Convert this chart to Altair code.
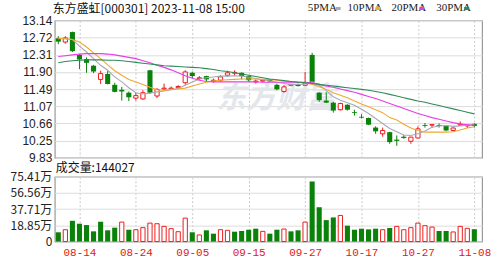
import altair as alt
import pandas as pd

dates = ["08-09","08-10","08-11","08-14","08-15","08-16","08-17","08-18","08-21","08-22",
         "08-23","08-24","08-25","08-28","08-29","08-30","08-31","09-01","09-04","09-05",
         "09-06","09-07","09-08","09-11","09-12","09-13","09-14","09-15","09-18","09-19",
         "09-20","09-21","09-22","09-25","09-26","09-27","09-28","10-09","10-10","10-11",
         "10-12","10-13","10-16","10-17","10-18","10-19","10-20","10-23","10-24","10-25",
         "10-26","10-27","10-30","10-31","11-01","11-02","11-03","11-06","11-07","11-08"]

opens = [12.71,12.62,12.86,12.31,12.21,12.05,11.72,11.85,11.59,11.47,
         11.40,11.27,11.25,11.94,11.32,11.49,11.49,11.52,11.64,11.88,
         11.74,11.80,11.68,11.70,11.82,11.87,11.88,11.80,11.66,11.68,
         11.72,11.59,11.43,11.58,11.61,11.58,12.31,11.40,11.21,11.16,
         10.99,11.11,10.93,10.82,10.79,10.56,10.41,10.45,10.27,10.34,
         10.23,10.31,10.62,10.62,10.62,10.61,10.49,10.62,10.60,10.65]
highs = [12.76,12.76,12.87,12.33,12.25,12.07,11.93,11.93,11.64,11.54,
         11.43,11.40,11.46,11.95,11.51,11.62,11.55,11.58,11.94,11.91,
         11.80,11.81,11.74,11.82,11.93,11.94,11.89,11.81,11.72,11.71,
         11.73,11.62,11.58,11.61,11.62,11.90,12.36,11.41,11.41,11.18,
         11.16,11.12,10.99,10.88,10.80,10.59,10.56,10.46,10.37,10.38,
         10.34,10.59,10.67,10.63,10.66,10.62,10.56,10.71,10.62,10.66]
lows = [12.57,12.58,12.38,11.97,11.88,11.87,11.61,11.60,11.41,11.21,
        11.20,11.21,11.23,11.37,11.27,11.46,11.47,11.49,11.59,11.75,
        11.71,11.68,11.64,11.66,11.79,11.80,11.72,11.66,11.62,11.66,
        11.66,11.46,11.40,11.56,11.55,11.56,11.64,11.18,11.15,10.92,
        10.97,10.97,10.85,10.78,10.62,10.41,10.34,10.17,10.12,10.29,
        10.17,10.30,10.56,10.55,10.56,10.47,10.48,10.61,10.55,10.56]
closes = [12.63,12.72,12.40,12.20,12.12,11.91,11.86,11.61,11.42,11.43,
          11.29,11.33,11.40,11.40,11.48,11.51,11.51,11.55,11.90,11.80,
          11.76,11.72,11.70,11.78,11.88,11.89,11.80,11.70,11.68,11.70,
          11.67,11.48,11.54,11.60,11.56,11.63,11.66,11.22,11.16,10.97,
          11.14,10.99,10.91,10.80,10.63,10.47,10.49,10.21,10.24,10.31,
          10.33,10.53,10.60,10.63,10.60,10.49,10.55,10.64,10.62,10.60]

ma5 = [12.70,12.70,12.68,12.52,12.38,12.22,12.06,11.94,11.78,11.66,
       11.52,11.40,11.37,11.39,11.42,11.44,11.47,11.50,11.58,11.66,
       11.73,11.76,11.78,11.80,11.80,11.81,11.80,11.77,11.74,11.71,
       11.68,11.65,11.62,11.60,11.60,11.61,11.66,11.58,11.45,11.30,
       11.22,11.16,11.10,11.00,10.90,10.78,10.66,10.54,10.46,10.38,
       10.37,10.41,10.48,10.57,10.60,10.61,10.59,10.60,10.62,10.63]
ma10 = [12.71,12.70,12.68,12.62,12.50,12.36,12.22,12.07,11.93,11.82,
        11.72,11.66,11.60,11.53,11.47,11.46,11.48,11.49,11.51,11.56,
        11.61,11.65,11.68,11.70,11.71,11.72,11.73,11.73,11.73,11.72,
        11.71,11.70,11.68,11.67,11.66,11.64,11.60,11.55,11.48,11.40,
        11.34,11.28,11.20,11.13,11.06,10.99,10.92,10.80,10.74,10.64,
        10.55,10.49,10.45,10.45,10.45,10.45,10.46,10.50,10.55,10.58]
ma20 = [12.27,12.29,12.31,12.33,12.34,12.34,12.34,12.33,12.31,12.28,
        12.25,12.22,12.17,12.12,12.06,12.01,11.95,11.88,11.81,11.75,
        11.70,11.67,11.66,11.66,11.66,11.66,11.66,11.66,11.66,11.65,
        11.65,11.65,11.65,11.65,11.65,11.65,11.64,11.60,11.56,11.53,
        11.49,11.45,11.41,11.36,11.31,11.26,11.20,11.14,11.08,11.02,
        10.96,10.90,10.85,10.80,10.76,10.72,10.68,10.65,10.63,10.62]
ma30 = [12.12,12.15,12.17,12.18,12.19,12.19,12.19,12.18,12.18,12.17,
        12.15,12.13,12.11,12.09,12.07,12.05,12.04,12.03,12.02,12.01,
        12.00,11.98,11.96,11.93,11.91,11.88,11.85,11.82,11.79,11.76,
        11.73,11.71,11.69,11.67,11.65,11.64,11.62,11.60,11.58,11.56,
        11.54,11.52,11.50,11.48,11.46,11.43,11.40,11.36,11.32,11.28,
        11.24,11.20,11.17,11.13,11.09,11.05,11.01,10.97,10.93,10.89]

volumes = [10.8,13.8,24.2,20.8,19.2,11.9,23.1,13.1,16.2,22.7,
           13.8,13.8,16.2,21.5,20.8,17.7,15.0,11.5,27.3,10.8,
           7.7,13.1,9.2,13.8,13.1,11.5,12.3,13.8,15.0,11.9,
           9.2,13.8,14.6,11.9,13.1,22.7,70.0,40.0,25.0,28.1,
           30.4,18.5,13.8,15.0,14.2,15.0,13.8,15.8,17.7,13.8,
           16.2,21.5,18.5,16.9,12.3,12.3,11.2,17.7,15.4,14.4]
vol_red = [0,1,0,0,0,0,0,0,0,1,
           0,1,1,1,1,1,1,1,1,0,
           1,0,0,1,1,0,0,0,0,1,
           0,0,1,0,0,1,0,0,0,0,
           1,0,0,0,0,0,1,0,1,1,
           1,1,1,1,0,0,1,1,1,0]

price_labels = ["9.83","10.25","10.66","11.07","11.49","11.90","12.31","12.72","13.14"]
vol_labels = ["0","18.85万","37.71万","56.56万","75.41万"]
vol_ticks = [0, 18.85, 37.71, 56.56, 75.41]
title_text = "东方盛虹[000301] 2023-11-08 15:00"
vol_title = "成交量:144027"
ma_keys = ["ma5", "ma10", "ma20", "ma30"]
ma_names = ["5PMA", "10PMA", "20PMA", "30PMA"]
ma_colors = ["#a8a8b8", "#f0a830", "#e83ce8", "#2f8a5a"]

RED = "#ee1c1c"
GREEN = "#0a820a"
PMIN, PMAX = 9.83, 13.14
W, HP, HV = 429, 138, 65

n = len(dates)
df = pd.DataFrame({
    "idx": list(range(n)), "date": dates, "open": opens, "high": highs,
    "low": lows, "close": closes, "ma5": ma5, "ma10": ma10, "ma20": ma20,
    "ma30": ma30, "vol": volumes, "vred": vol_red,
})
df["up"] = df["close"] > df["open"]

grid_idx = [3, 11, 19, 27, 35, 43, 51, 59]
step = (PMAX - PMIN) / 8
price_ticks = [round(PMIN + k * step, 5) for k in range(9)]
price_expr = "[" + ",".join("'%s'" % s for s in price_labels) + "][round((datum.value-%s)/%s)]" % (PMIN, step)
vol_expr = "[" + ",".join("'%s'" % s for s in vol_labels) + "][round(datum.value/18.8525)]"
date_expr = "[" + ",".join("'%s'" % s for s in dates) + "][round(datum.value)]"

xscale = alt.Scale(domain=[-0.5, 60.1], nice=False, zero=False)
yscale = alt.Scale(domain=[PMIN, PMAX], nice=False, zero=False)
vscale = alt.Scale(domain=[0, 75.41], nice=False, zero=True)

ax_px = alt.Axis(values=grid_idx, labels=False, ticks=False, domain=False,
                 grid=True, gridDash=[2, 2], gridColor="#c8c8c8")
ax_py = alt.Axis(values=price_ticks, labelExpr=price_expr, ticks=False, domain=False,
                 grid=True, gridColor="#dcdcdc", labelPadding=3, labelOverlap=False,
                 labelFontSize=12, labelColor="#222", labelFont="Liberation Sans")
ax_vx = alt.Axis(values=grid_idx, labelExpr=date_expr, ticks=False, domain=False,
                 grid=True, gridDash=[2, 2], gridColor="#c8c8c8", labelOverlap=False,
                 labelColor="#e01818", labelFont="Liberation Mono", labelFontSize=11,
                 labelPadding=5)
ax_vy = alt.Axis(values=vol_ticks, labelExpr=vol_expr, ticks=False, domain=False,
                 grid=True, gridColor="#dcdcdc", labelPadding=3, labelOverlap=False,
                 labelFontSize=12, labelColor="#222", labelFont="Noto Sans CJK SC")

PX = lambda f: alt.X(f, scale=xscale, axis=ax_px, title=None)
PY = lambda f: alt.Y(f, scale=yscale, axis=ax_py, title=None)
VX = lambda f: alt.X(f, scale=xscale, axis=ax_vx, title=None)
VY = lambda f: alt.Y(f, scale=vscale, axis=ax_vy, title=None)

base = alt.Chart(df)

wick_up = base.transform_filter("datum.up").mark_rule(strokeWidth=1, color=RED).encode(
    x=PX("idx:Q"), y=PY("low:Q"), y2="high:Q")
wick_dn = base.transform_filter("!datum.up").mark_rule(strokeWidth=1, color=GREEN).encode(
    x=PX("idx:Q"), y=PY("low:Q"), y2="high:Q")
body_up = base.transform_filter("datum.up").transform_calculate(
    x0="datum.idx-0.3", x1="datum.idx+0.3"
).mark_rect(fill="white", stroke=RED, strokeWidth=1).encode(
    x=PX("x0:Q"), x2="x1:Q", y=PY("open:Q"), y2="close:Q")
body_dn = base.transform_filter("!datum.up").transform_calculate(
    x0="datum.idx-0.36", x1="datum.idx+0.36"
).mark_rect(color=GREEN).encode(
    x=PX("x0:Q"), x2="x1:Q", y=PY("open:Q"), y2="close:Q")

line_layers = []
for key, col in zip(ma_keys, ma_colors):
    line_layers.append(base.mark_line(strokeWidth=1.1, color=col).encode(
        x=PX("idx:Q"), y=PY(key + ":Q")))

wm = alt.Chart(pd.DataFrame({"t": ["东方财富"]})).mark_text(
    fontSize=30, fontStyle="italic", fontWeight="bold", font="Noto Sans CJK SC",
    color="#e3e7ec").encode(x=alt.value(222), y=alt.value(79), text="t:N")

title = alt.Chart(pd.DataFrame({"t": [title_text]})).mark_text(
    align="left", baseline="middle", fontSize=12, font="Noto Sans CJK SC", color="#111").encode(
    x=alt.value(-2), y=alt.value(-11), text="t:N")

legend_x = [254, 294, 338, 383]
legend_layers = []
for name, col, lx in zip(ma_names, ma_colors, legend_x):
    legend_layers.append(alt.Chart(pd.DataFrame({"t": [name]})).mark_text(
        align="left", baseline="middle", fontSize=11, font="Liberation Sans Narrow",
        color="#222").encode(x=alt.value(lx), y=alt.value(-12), text="t:N"))
    legend_layers.append(alt.Chart(pd.DataFrame({"t": [name]})).mark_rule(
        color=col, strokeWidth=3).encode(x=alt.value(lx + 28), x2=alt.value(lx + 33), y=alt.value(-12)))

anchor_top = alt.Chart(pd.DataFrame({"t": [0]})).mark_rule(opacity=0, strokeWidth=1).encode(
    x=alt.value(-54), x2=alt.value(449), y=alt.value(-18.5))

price = alt.layer(wm, wick_up, wick_dn, body_up, body_dn, *line_layers, title,
                  *legend_layers, anchor_top).properties(width=W, height=HP)

vbase = alt.Chart(df)
vol_up = vbase.transform_filter("datum.vred == 1").transform_calculate(
    x0="datum.idx-0.3", x1="datum.idx+0.3", z="0"
).mark_rect(fill="white", stroke=RED, strokeWidth=1).encode(
    x=VX("x0:Q"), x2="x1:Q", y=VY("vol:Q"), y2="z:Q")
vol_dn = vbase.transform_filter("datum.vred == 0").transform_calculate(
    x0="datum.idx-0.36", x1="datum.idx+0.36", z="0"
).mark_rect(color=GREEN).encode(
    x=VX("x0:Q"), x2="x1:Q", y=VY("vol:Q"), y2="z:Q")
vtitle = alt.Chart(pd.DataFrame({"t": [vol_title]})).mark_text(
    align="left", baseline="middle", fontSize=12, font="Noto Sans CJK SC", color="#111").encode(
    x=alt.value(1), y=alt.value(-9), text="t:N")
anchor_bot = alt.Chart(pd.DataFrame({"t": [0]})).mark_rule(opacity=0, strokeWidth=1).encode(
    x=alt.value(-54), x2=alt.value(449), y=alt.value(HV + 20.5))

volume = alt.layer(vol_up, vol_dn, vtitle, anchor_bot).properties(width=W, height=HV)

chart = alt.vconcat(price, volume, spacing=19, bounds="flush").properties(
    padding=0, background="white"
).configure_view(stroke="#9a9a9a", strokeWidth=1.2).configure_axis(labelOverlap=False)

chart.save("out.html", embed_options={"renderer": "svg", "actions": False})
